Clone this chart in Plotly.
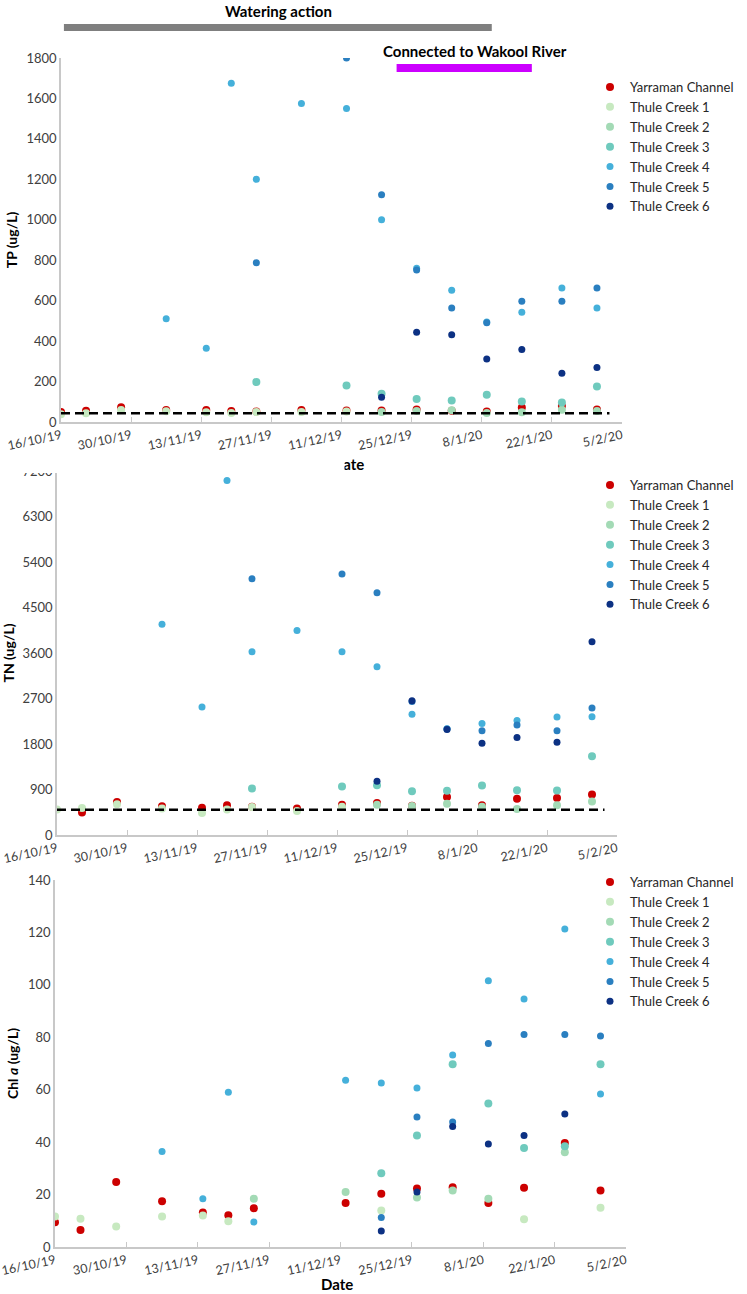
import plotly.graph_objects as go

# sampling dates (same for all three panels)
dates = ["2019-10-16", "2019-10-21", "2019-10-28", "2019-11-06", "2019-11-14", "2019-11-19",
         "2019-11-24", "2019-12-03", "2019-12-12", "2019-12-19", "2019-12-26", "2020-01-02",
         "2020-01-09", "2020-01-16", "2020-01-24", "2020-01-31"]

sites = ["Yarraman Channel", "Thule Creek 1", "Thule Creek 2", "Thule Creek 3",
         "Thule Creek 4", "Thule Creek 5", "Thule Creek 6"]
colours = ["#cc0000", "#c7e9c0", "#a3dab5", "#6fcabd", "#45b0da", "#2a7fc0", "#0c3183"]
sizes = [8, 8, 8, 8, 7, 7, 7]

N = None

# TP (ug/L)
tp_yarraman = [49, 56, 73, 59, 59, 55, 52, 59, 57, 57, 62, 56, 52, 72, 79, 62]
tp_thule1 = [38, 43, 59, 53, 48, 45, 50, 50, 52, N, N, N, N, N, N, N]
tp_thule2 = [N, N, N, N, N, N, N, N, N, 50, 55, 58, 45, 48, 60, 55]
tp_thule3 = [N, N, N, N, N, N, 198, N, 181, 140, 114, 106, 135, 101, 97, 176]
tp_thule4 = [N, N, N, 510, 365, 1675, 1200, 1575, 1550, 1000, 760, 651, 495, 543, 663, 564]
tp_thule5 = [N, N, N, N, N, N, 788, N, 1800, 1124, 752, 564, 491, 597, 597, 663]
tp_thule6 = [N, N, N, N, N, N, N, N, N, 122, 444, 432, 312, 358, 241, 270]

# TN (ug/L)
tn_yarraman = [N, 443, 652, 567, 541, 587, 560, 522, 600, 633, 580, 750, 587, 717, 730, 802]
tn_thule1 = [502, 535, 607, 522, 437, 502, 554, 476, 560, N, N, N, N, N, N, N]
tn_thule2 = [N, N, N, N, N, N, N, N, N, 600, 574, 620, 560, 515, 587, 665]
tn_thule3 = [N, N, N, N, N, N, 920, N, 959, 985, 867, 874, 978, 887, 880, 1559]
tn_thule4 = [N, N, N, 4167, 2530, 7011, 3626, 4043, 3626, 3326, 2387, 2100, 2204, 2263, 2335, 2341]
tn_thule5 = [N, N, N, N, N, N, 5067, N, 5165, 4793, 2640, 2095, 2061, 2178, 2061, 2511]
tn_thule6 = [N, N, N, N, N, N, N, N, N, 1063, 2654, 2087, 1813, 1930, 1833, 3822]

# Chl a (ug/L)
chl_yarraman = [9.4, 6.5, 24.8, 17.5, 13.2, 12.1, 14.8, N, 16.8, 20.3, 22.3, 22.8, 16.8, 22.6, 39.7, 21.6]
chl_thule1 = [11.6, 10.8, 7.8, 11.6, 12.0, 9.8, N, N, N, 13.9, N, N, N, 10.6, N, 15.0]
chl_thule2 = [N, N, N, N, N, N, 18.4, N, 21.0, N, 18.9, 21.6, 18.4, N, 36.1, N]
chl_thule3 = [N, N, N, N, N, N, N, N, N, 28.1, 42.5, 69.7, 54.7, 37.8, 38.4, 69.7]
chl_thule4 = [N, N, N, 36.4, 18.4, 59.0, 9.5, N, 63.6, 62.6, 60.7, 73.2, 101.6, 94.6, 121.3, 58.4]
chl_thule5 = [N, N, N, N, N, N, N, N, N, 11.3, 49.6, 47.7, 77.6, 81.1, 81.1, 80.5]
chl_thule6 = [N, N, N, N, N, N, N, N, N, 6.1, 21.0, 46.0, 39.3, 42.5, 50.7, N]

# guideline values and periods
tp_guide = 43
tn_guide = 500
guide_dates = ["2019-10-16", "2020-02-02 12:00"]
watering = ["2019-10-16 14:00", "2020-01-10"]
connected = ["2019-12-22", "2020-01-18"]

tp = [tp_yarraman, tp_thule1, tp_thule2, tp_thule3, tp_thule4, tp_thule5, tp_thule6]
tn = [tn_yarraman, tn_thule1, tn_thule2, tn_thule3, tn_thule4, tn_thule5, tn_thule6]
chl = [chl_yarraman, chl_thule1, chl_thule2, chl_thule3, chl_thule4, chl_thule5, chl_thule6]

FONT = "Lato"
W, H = 747, 1294

fig = go.Figure()
panels = [("x", "y", "legend", tp), ("x2", "y2", "legend2", tn), ("x3", "y3", "legend3", chl)]
for xa, ya, leg, series in panels:
    for name, col, sz, vals in zip(sites, colours, sizes, series):
        fig.add_trace(go.Scatter(x=dates, y=vals, mode="markers", name=name,
                                 xaxis=xa, yaxis=ya, legend=leg,
                                 marker=dict(color=col, size=sz)))

for xa, ya, g in [("x", "y", tp_guide), ("x2", "y2", tn_guide)]:
    fig.add_trace(go.Scatter(x=guide_dates, y=[g, g], mode="lines", showlegend=False,
                             xaxis=xa, yaxis=ya,
                             line=dict(color="black", width=2.5, dash="9px,5px")))


# pixel -> paper coordinate
def px_x(p):
    return p / W


def px_y(p):
    return 1 - p / H


xcommon = dict(type="date", range=["2019-10-16", "2020-02-05"], tick0="2019-10-16",
               dtick=14 * 86400000, tickformat="%-d/%-m/%y", tickangle=-12,
               showline=True, linecolor="#c8c8c8", linewidth=1.5, ticks="inside",
               ticklen=5, tickcolor="#c8c8c8", showgrid=False, zeroline=False,
               automargin=False, ticklabeloverflow="allow",
               tickfont=dict(family=FONT, size=12.5, color="#404040"))
ycommon = dict(showline=True, linecolor="#c8c8c8", linewidth=1.5, ticks="",
               showgrid=False, zeroline=False, automargin=False,
               tickfont=dict(family=FONT, size=13, color="#404040"))
ytitle = dict(family=FONT, size=14, color="black")

legcommon = dict(font=dict(family=FONT, size=13, color="#262626"), bgcolor="rgba(0,0,0,0)",
                 xanchor="left", yanchor="top", itemwidth=30, tracegroupgap=0)

fig.update_layout(
    width=W, height=H, paper_bgcolor="white", plot_bgcolor="white",
    margin=dict(l=0, r=0, t=0, b=0, autoexpand=False),
    xaxis=dict(xcommon, domain=[px_x(61), px_x(622)], anchor="y"),
    yaxis=dict(ycommon, domain=[px_y(422), px_y(58)], range=[0, 1800], dtick=200, anchor="x",
               title=dict(text="<b>TP (ug/L)</b>", font=ytitle, standoff=6)),
    xaxis2=dict(xcommon, domain=[px_x(57), px_x(617)], anchor="y2"),
    yaxis2=dict(ycommon, domain=[px_y(835), px_y(471)], range=[0, 7200], dtick=900, anchor="x2",
                title=dict(text="<b>TN (ug/L)</b>", font=ytitle, standoff=6)),
    xaxis3=dict(xcommon, domain=[px_x(55), px_x(626)], anchor="y3"),
    yaxis3=dict(ycommon, domain=[px_y(1247), px_y(880)], range=[0, 140], dtick=20, anchor="x3",
                title=dict(text="<b>Chl <i>a</i> (ug/L)</b>", font=ytitle, standoff=6)),
    legend=dict(legcommon, x=px_x(590), y=px_y(72)),
    legend2=dict(legcommon, x=px_x(590), y=px_y(470)),
    legend3=dict(legcommon, x=px_x(590), y=px_y(867)),
)

# watering / connection periods
fig.add_shape(type="rect", xref="x", yref="paper", x0=watering[0], x1=watering[1],
              y0=px_y(31), y1=px_y(24), fillcolor="#7f7f7f", line=dict(width=0))
fig.add_shape(type="rect", xref="x", yref="paper", x0=connected[0], x1=connected[1],
              y0=px_y(72), y1=px_y(64), fillcolor="#cc00ff", line=dict(width=0))

bold = dict(family=FONT, size=15, color="black")
fig.add_annotation(text="<b>Watering action</b>", xref="paper", yref="paper",
                   x=px_x(278), y=px_y(11), yanchor="middle", showarrow=False, font=bold)
fig.add_annotation(text="<b>Connected to Wakool River</b>", xref="paper", yref="paper",
                   x=px_x(475), y=px_y(51), yanchor="middle", showarrow=False, font=bold)
fig.add_annotation(text="<b>Date</b>", xref="paper", yref="paper",
                   x=px_x(366), y=px_y(464), xanchor="right", yanchor="middle",
                   showarrow=False, font=bold)
fig.add_annotation(text="<b>Date</b>", xref="paper", yref="paper",
                   x=px_x(337), y=px_y(1284), yanchor="middle", showarrow=False, font=bold)

# the middle chart sits over the top chart's axis title ("D" and the 7200 label hidden)
fig.add_annotation(text=" ", xref="paper", yref="paper", x=px_x(336), y=px_y(464),
                   width=16, height=20, bgcolor="white", borderpad=0, showarrow=False)
fig.add_shape(type="rect", xref="paper", yref="paper", layer="above",
              x0=0, x1=px_x(340), y0=px_y(473), y1=px_y(458),
              fillcolor="white", line=dict(width=0))

fig.write_html("out.html", config={"displayModeBar": False},
               post_script="document.body.style.margin='0px';")
